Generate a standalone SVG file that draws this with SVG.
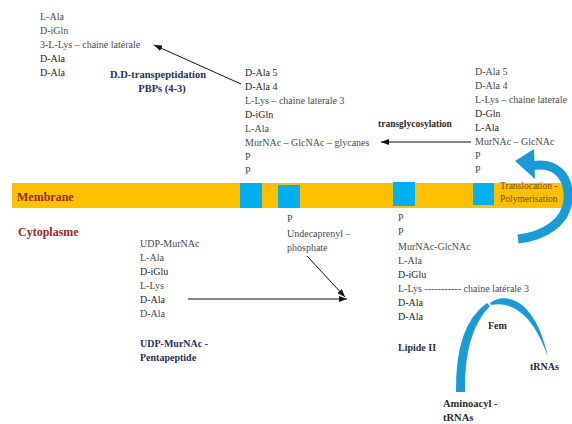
<svg xmlns="http://www.w3.org/2000/svg" width="572" height="424" viewBox="0 0 572 424" font-family="'Liberation Serif', 'Times New Roman', 'DejaVu Serif', serif">
<style>
text{font-family:'Liberation Serif','Times New Roman','DejaVu Serif',serif;font-size:10px;fill:#4a4a4a}
.d{fill:#262626}
.b{font-weight:bold;fill:#27315a}
.bk{font-weight:bold;fill:#2a2a2a}
.zone{font-weight:bold;font-size:12px;fill:#952c22}
.tp{font-size:9.5px;fill:#7a4b10}
.sq{fill:#00b0f0}
.ln{stroke:#111;stroke-width:1;fill:none;marker-end:url(#ah)}
.blue{fill:#1b9bd6}
</style>
<defs>
<marker id="ah" markerUnits="userSpaceOnUse" markerWidth="8" markerHeight="6" viewBox="0 0 8 6" refX="8" refY="3" orient="auto">
<path d="M0,0 L8,3 L0,6 z" fill="#111"/>
</marker>
</defs>
<rect width="572" height="424" fill="#ffffff"/>

<g id="membrane">
<rect x="12" y="183" width="554" height="25" fill="#ffc000"/>
<rect class="sq" x="240" y="183" width="22" height="25"/>
<rect class="sq" x="278" y="185" width="22" height="23"/>
<rect class="sq" x="393" y="182" width="22" height="24"/>
<rect class="sq" x="473" y="183" width="21" height="22"/>
<text class="zone" x="17" y="201">Membrane</text>
</g>

<g id="cytoplasme">
<text class="zone" x="18" y="236">Cytoplasme</text>
</g>

<g id="crosslinked-peptide">
<text x="40" y="20">L-Ala</text>
<text x="40" y="34">D-iGln</text>
<text x="40" y="48">3-L-Lys – chaine latérale</text>
<text class="d" x="40" y="62">D-Ala</text>
<text class="d" x="40" y="76">D-Ala</text>
</g>

<g id="transpeptidation-label">
<text class="b" x="158" y="78" text-anchor="middle" style="font-size:10.5px">D.D-transpeptidation</text>
<text class="b" x="162" y="92" text-anchor="middle" style="font-size:10.5px">PBPs (4-3)</text>
</g>

<g id="glycan-peptide">
<text class="d" x="245" y="76">D-Ala 5</text>
<text class="d" x="245" y="90">D-Ala 4</text>
<text x="245" y="104">L-Lys – chaine laterale 3</text>
<text class="d" x="245" y="118">D-iGln</text>
<text x="245" y="132">L-Ala</text>
<text x="245" y="146">MurNAc – GlcNAc – glycanes</text>
<text x="245" y="160">P</text>
<text x="245" y="174">P</text>
</g>

<g id="transglycosylation-label">
<text class="bk" x="378" y="127" style="font-size:9.5px">transglycosylation</text>
</g>

<g id="lipid-flipped">
<text x="475" y="75">D-Ala 5</text>
<text x="475" y="89">D-Ala 4</text>
<text x="475" y="103">L-Lys – chaine laterale</text>
<text class="d" x="475" y="117">D-Gln</text>
<text class="d" x="475" y="131">L-Ala</text>
<text x="475" y="145">MurNAc – GlcNAc</text>
<text x="475" y="159">P</text>
<text x="475" y="173">P</text>
</g>

<g id="translocation-label">
<text class="tp" x="500" y="189">Translocation -</text>
<text class="tp" x="500" y="202">Polymerisation</text>
</g>

<g id="undecaprenyl">
<text x="287" y="222">P</text>
<text x="287" y="237">Undecaprenyl –</text>
<text x="287" y="251">phosphate</text>
</g>

<g id="udp-murnac">
<text x="140" y="247">UDP-MurNAc</text>
<text x="140" y="261">L-Ala</text>
<text class="d" x="140" y="275">D-iGlu</text>
<text x="140" y="289">L-Lys</text>
<text class="d" x="140" y="303">D-Ala</text>
<text x="140" y="317">D-Ala</text>
<text class="b" x="140" y="347">UDP-MurNAc -</text>
<text class="b" x="140" y="361">Pentapeptide</text>
</g>

<g id="lipide-ii">
<text x="398" y="221">P</text>
<text x="398" y="235">P</text>
<text x="398" y="250">MurNAc-GlcNAc</text>
<text x="398" y="264">L-Ala</text>
<text class="d" x="398" y="278">D-iGlu</text>
<text x="398" y="292">L-Lys ----------- chaine latérale 3</text>
<text class="d" x="398" y="306">D-Ala</text>
<text class="d" x="398" y="320">D-Ala</text>
<text class="b" x="398" y="351">Lipide II</text>
</g>

<g id="fem">
<path class="blue" d="M487,303 Q455,325 456,392 L465,392 Q464,332 490,306 Z"/>
<path class="blue" d="M490,303 C505,292 535,297 548,357 C532,310 508,301 491,305 Z"/>
<text class="bk" x="488" y="329">Fem</text>
<text class="bk" x="530" y="370">tRNAs</text>
<text class="bk" x="443" y="407" style="font-size:10.5px">Aminoacyl -</text>
<text class="bk" x="443" y="421" style="font-size:10.5px">tRNAs</text>
</g>

<g id="connectors">
<line class="ln" x1="241" y1="84" x2="154" y2="45"/>
<line class="ln" x1="471" y1="142" x2="381" y2="142"/>
<line class="ln" x1="188" y1="299" x2="347" y2="299"/>
<line class="ln" x1="307" y1="256" x2="345" y2="297"/>
<path d="M531,166 C555,161 570,176 568,200 C566,222 545,236 518,239" fill="none" stroke="#1b9bd6" stroke-width="9"/>
<polygon class="blue" points="515,161 534,149 535,179"/>
</g>
</svg>
